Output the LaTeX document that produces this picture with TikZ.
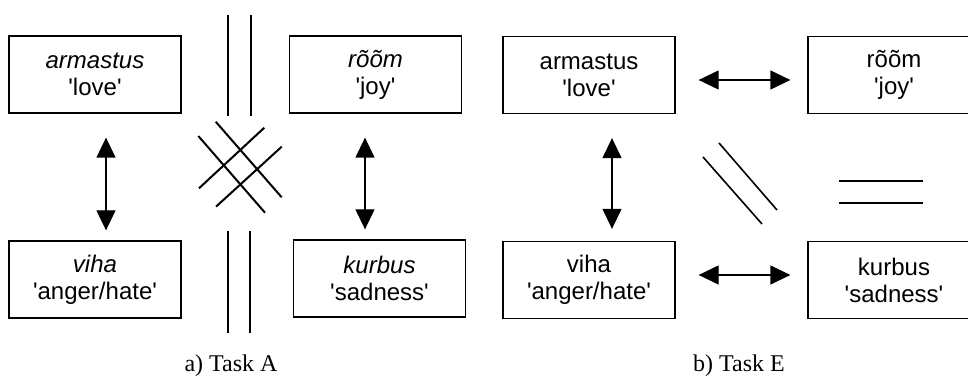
\documentclass[tikz,border=0pt]{standalone}
\usepackage{fontspec}
\setmainfont{Liberation Serif}
\newfontfamily\boxfont{Liberation Sans}
\usetikzlibrary{arrows.meta}
\newcommand{\gloss}[1]{\textquotesingle#1\textquotesingle}

\begin{document}
\begin{tikzpicture}[x=0.5pt, y=-0.5pt,
        word/.style={rectangle, draw, line width=0.65pt, inner sep=0pt, minimum width=86pt, minimum height=38.5pt, align=center, font=\boxfont\fontsize{12}{13.5}\selectfont},
        arrow/.style={line width=0.65pt, {Triangle[length=10pt,width=9.5pt]}-{Triangle[length=10pt,width=9.5pt]}},
        bar/.style={line width=1pt},
        thinbar/.style={line width=0.8pt},
        caption/.style={anchor=base, font=\fontsize{12}{14}\selectfont}
    ]
    
    % Fix the page to the reference size
    \useasboundingbox (0,0) rectangle (968,378);
    
    % a) Task A: word boxes
    \node[word] (loveA) at (95,74.5) {\itshape armastus\\\gloss{love}};
    \node[word] (joyA) at (375.5,74.5) {\itshape rõõm\\\gloss{joy}};
    \node[word] (hateA) at (95,279.5) {\itshape viha\\\gloss{anger/hate}};
    \node[word] (sadA) at (379.5,278.5) {\itshape kurbus\\\gloss{sadness}};
    
    % Arrows
    \draw[arrow] ([xshift=5.5pt,yshift=-12pt]loveA.south) -- ([xshift=5.5pt,yshift=5pt]hateA.north);
    \draw[arrow] ([xshift=-5.25pt,yshift=-12pt]joyA.south) -- ([xshift=-7.25pt,yshift=5pt]sadA.north);
    
    % Parallel bars and crossing hash
    \draw[bar] (228,15) -- (228,116) (251,15) -- (251,116);
    \draw[bar] (228,231) -- (228,333) (250,231) -- (250,333);
    \draw[bar] (215.7,121.7) -- (281.7,197.3) (198.3,136) -- (265,212.7);
    \draw[bar] (264.3,127.7) -- (199,188.3) (281.7,146.7) -- (216,206.7);
    
    % b) Task E: word boxes
    \node[word] (loveE) at (589,75) {armastus\\\gloss{love}};
    \node[word] (joyE) at (894,75) {rõõm\\\gloss{joy}};
    \node[word] (hateE) at (589,280) {viha\\\gloss{anger/hate}};
    \node[word] (sadE) at (894,280) {kurbus\\\gloss{sadness}};
    
    % Arrows
    \draw[arrow] ([xshift=11.5pt,yshift=-2.5pt]loveE.east) -- ([xshift=-8.5pt,yshift=-2.5pt]joyE.west);
    \draw[arrow] ([xshift=11.5pt,yshift=2.5pt]hateE.east) -- ([xshift=-8.5pt,yshift=2.5pt]sadE.west);
    \draw[arrow] ([xshift=11.5pt,yshift=-12pt]loveE.south) -- ([xshift=11.5pt,yshift=6pt]hateE.north);
    
    % Diagonal and equal bars
    \draw[thinbar] (703,157) -- (762,224) (719,143) -- (777,210);
    \draw[thinbar] (839,181) -- (923,181) (839,203) -- (923,203);
    
    % Captions
    \node[caption] (capA) at (231,372) {a) Task A};
    \node[caption] (capE) at (739,372) {b) Task E};
    
\end{tikzpicture}
\end{document}
